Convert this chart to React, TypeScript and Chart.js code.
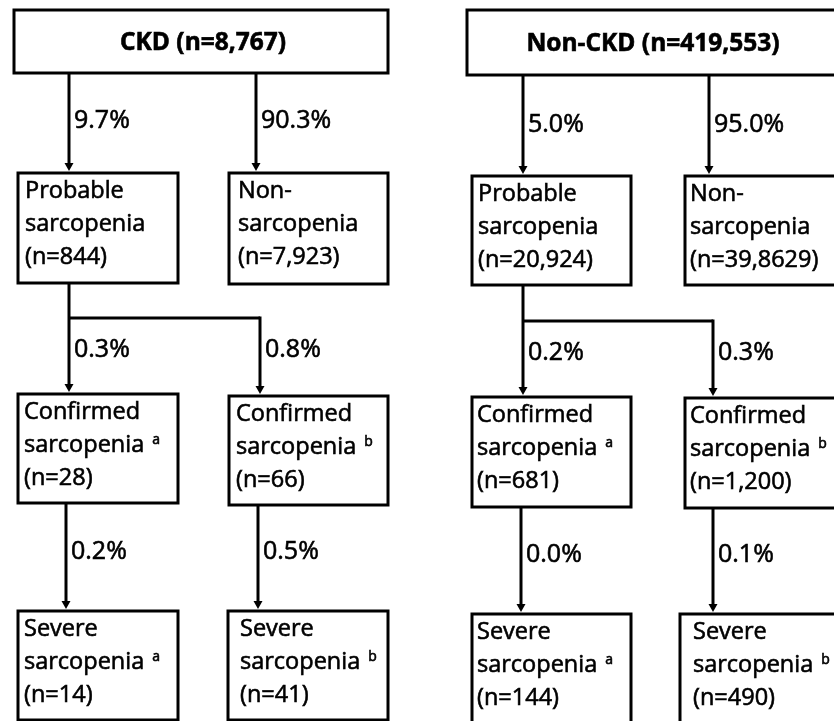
import React, { useEffect, useRef } from "react";
import { Chart, registerables } from "chart.js";

Chart.register(...registerables);

// ---------- Data ----------
const panelNames = ["CKD", "Non-CKD"];
const totalN = ["8,767", "419,553"];
const probablePct = ["9.7%", "5.0%"];
const nonSarcPct = ["90.3%", "95.0%"];
const probableN = ["844", "20,924"];
const nonSarcN = ["7,923", "39,8629"];
const confirmedAPct = ["0.3%", "0.2%"];
const confirmedBPct = ["0.8%", "0.3%"];
const confirmedAN = ["28", "681"];
const confirmedBN = ["66", "1,200"];
const severeAPct = ["0.2%", "0.0%"];
const severeBPct = ["0.5%", "0.1%"];
const severeAN = ["14", "144"];
const severeBN = ["41", "490"];

// ---------- Layout (in scale units: 0..834 x 0..721) ----------
type Box = { x0: number; x1: number; y0: number; y1: number; tx: number };
type PanelLayout = {
  top: Box;
  titleCx: number;
  topArrowX: [number, number];
  prob: Box;
  non: Box;
  branchY: number;
  branchX: [number, number];
  confA: Box;
  confB: Box;
  sevX: [number, number];
  sevA: Box;
  sevB: Box;
  pctBase: [number, number, number];
};

const LAYOUT: PanelLayout[] = [
  {
    top: { x0: 14, x1: 388, y0: 10, y1: 73, tx: 0 },
    titleCx: 203,
    topArrowX: [69, 256],
    prob: { x0: 18, x1: 178, y0: 173, y1: 283, tx: 25 },
    non: { x0: 229, x1: 388, y0: 173, y1: 284, tx: 238 },
    branchY: 318,
    branchX: [69, 260],
    confA: { x0: 18, x1: 178, y0: 394, y1: 503, tx: 24 },
    confB: { x0: 229, x1: 388, y0: 396, y1: 505, tx: 236 },
    sevX: [66, 258],
    sevA: { x0: 18, x1: 178, y0: 611, y1: 720, tx: 24 },
    sevB: { x0: 228, x1: 388, y0: 611, y1: 720, tx: 240 },
    pctBase: [128, 357, 559],
  },
  {
    top: { x0: 467, x1: 840, y0: 10, y1: 75, tx: 0 },
    titleCx: 653,
    topArrowX: [523, 709],
    prob: { x0: 472, x1: 631, y0: 176, y1: 285, tx: 478 },
    non: { x0: 685, x1: 845, y0: 176, y1: 285, tx: 690 },
    branchY: 321,
    branchX: [523, 713],
    confA: { x0: 472, x1: 631, y0: 397, y1: 507, tx: 477 },
    confB: { x0: 685, x1: 845, y0: 398, y1: 508, tx: 690 },
    sevX: [521, 713],
    sevA: { x0: 472, x1: 631, y0: 614, y1: 725, tx: 477 },
    sevB: { x0: 680, x1: 845, y0: 614, y1: 725, tx: 693 },
    pctBase: [132, 360, 562],
  },
];

const FONT = '"Open Sans", "Noto Sans", sans-serif';
const TEXT_SIZE = 23.5;
const TITLE_SIZE = 24.5;
const PCT_SIZE = 25;
const SUP_SIZE = 14;
const LINE_W = 3;
const TEXT_STROKE = 0.6;

type Line = { text: string; sup?: string };

const flowPlugin = {
  id: "flowchart",
  beforeDraw(chart: any) {
    const ctx = chart.ctx;
    ctx.save();
    ctx.fillStyle = "#ffffff";
    ctx.fillRect(0, 0, chart.width, chart.height);
    ctx.restore();
  },
  afterDraw(chart: any) {
    const ctx: CanvasRenderingContext2D = chart.ctx;
    const sx = chart.scales.x;
    const sy = chart.scales.y;
    const px = (v: number) => sx.getPixelForValue(v);
    const py = (v: number) => sy.getPixelForValue(v);

    ctx.save();
    ctx.strokeStyle = "#000";
    ctx.fillStyle = "#000";
    ctx.lineJoin = "miter";

    const text = (t: string, x: number, y: number) => {
      ctx.fillText(t, x, y);
      ctx.save();
      ctx.lineWidth = TEXT_STROKE;
      ctx.strokeText(t, x, y);
      ctx.restore();
    };
    const rect = (b: Box) => {
      ctx.lineWidth = LINE_W;
      ctx.strokeRect(px(b.x0), py(b.y0), px(b.x1) - px(b.x0), py(b.y1) - py(b.y0));
    };
    const seg = (x0: number, y0: number, x1: number, y1: number) => {
      ctx.lineWidth = LINE_W;
      ctx.beginPath();
      ctx.moveTo(px(x0), py(y0));
      ctx.lineTo(px(x1), py(y1));
      ctx.stroke();
    };
    const arrow = (x: number, y0: number, yTip: number) => {
      const X = px(x);
      const T = py(yTip);
      ctx.lineWidth = LINE_W;
      ctx.beginPath();
      ctx.moveTo(X, py(y0));
      ctx.lineTo(X, T - 6);
      ctx.stroke();
      ctx.beginPath();
      ctx.moveTo(X - 4.5, T - 8);
      ctx.lineTo(X + 4.5, T - 8);
      ctx.lineTo(X, T);
      ctx.closePath();
      ctx.fill();
    };
    const boxText = (b: Box, lines: Line[]) => {
      ctx.textAlign = "left";
      ctx.textBaseline = "alphabetic";
      lines.forEach((ln, i) => {
        const base = py(b.y0) + 25 + i * 33;
        ctx.font = `${TEXT_SIZE}px ${FONT}`;
        text(ln.text, px(b.tx), base);
        if (ln.sup) {
          const w = ctx.measureText(ln.text).width;
          ctx.font = `${SUP_SIZE}px ${FONT}`;
          text(ln.sup, px(b.tx) + w + 8, base - 8);
        }
      });
    };
    const pct = (x: number, yBase: number, t: string) => {
      ctx.font = `${PCT_SIZE}px ${FONT}`;
      ctx.textAlign = "left";
      ctx.textBaseline = "alphabetic";
      text(t, px(x) + 5, py(yBase));
    };

    LAYOUT.forEach((L, i) => {
      // title
      rect(L.top);
      ctx.font = `bold ${TITLE_SIZE}px ${FONT}`;
      ctx.textAlign = "center";
      ctx.textBaseline = "middle";
      text(`${panelNames[i]} (n=${totalN[i]})`, px(L.titleCx), (py(L.top.y0) + py(L.top.y1)) / 2 + 2);

      // first level
      arrow(L.topArrowX[0], L.top.y1, L.prob.y0 - 2);
      arrow(L.topArrowX[1], L.top.y1, L.non.y0 - 2);
      pct(L.topArrowX[0], L.pctBase[0], probablePct[i]);
      pct(L.topArrowX[1], L.pctBase[0], nonSarcPct[i]);
      rect(L.prob);
      rect(L.non);
      boxText(L.prob, [{ text: "Probable" }, { text: "sarcopenia" }, { text: `(n=${probableN[i]})` }]);
      boxText(L.non, [{ text: "Non-" }, { text: "sarcopenia" }, { text: `(n=${nonSarcN[i]})` }]);

      // branch
      seg(L.branchX[0], L.prob.y1, L.branchX[0], L.branchY);
      seg(L.branchX[0], L.branchY, L.branchX[1], L.branchY);
      arrow(L.branchX[0], L.branchY, L.confA.y0 - 2);
      arrow(L.branchX[1], L.branchY - 1.5, L.confB.y0 - 2);
      pct(L.branchX[0], L.pctBase[1], confirmedAPct[i]);
      pct(L.branchX[1], L.pctBase[1], confirmedBPct[i]);
      rect(L.confA);
      rect(L.confB);
      boxText(L.confA, [{ text: "Confirmed" }, { text: "sarcopenia", sup: "a" }, { text: `(n=${confirmedAN[i]})` }]);
      boxText(L.confB, [{ text: "Confirmed" }, { text: "sarcopenia", sup: "b" }, { text: `(n=${confirmedBN[i]})` }]);

      // severe
      arrow(L.sevX[0], L.confA.y1, L.sevA.y0 - 2);
      arrow(L.sevX[1], L.confB.y1, L.sevB.y0 - 2);
      pct(L.sevX[0], L.pctBase[2], severeAPct[i]);
      pct(L.sevX[1], L.pctBase[2], severeBPct[i]);
      rect(L.sevA);
      rect(L.sevB);
      boxText(L.sevA, [{ text: "Severe" }, { text: "sarcopenia", sup: "a" }, { text: `(n=${severeAN[i]})` }]);
      boxText(L.sevB, [{ text: "Severe" }, { text: "sarcopenia", sup: "b" }, { text: `(n=${severeBN[i]})` }]);
    });

    ctx.restore();
  },
};

export default function App() {
  const ref = useRef<HTMLCanvasElement | null>(null);

  useEffect(() => {
    document.body.style.margin = "0";
    const canvas = ref.current;
    if (!canvas) return;
    // anchor points: one per node centre, invisible
    const anchors: { x: number; y: number }[] = [];
    LAYOUT.forEach((L) => {
      [L.top, L.prob, L.non, L.confA, L.confB, L.sevA, L.sevB].forEach((b) =>
        anchors.push({ x: (b.x0 + b.x1) / 2, y: (b.y0 + b.y1) / 2 })
      );
    });
    const chart = new Chart(canvas, {
      type: "scatter",
      data: {
        datasets: [
          {
            label: "nodes",
            data: anchors,
            pointRadius: 0,
            pointHoverRadius: 0,
          },
        ],
      },
      options: {
        animation: false,
        responsive: false,
        maintainAspectRatio: false,
        devicePixelRatio: 1,
        layout: { padding: 0 },
        plugins: {
          legend: { display: false },
          tooltip: { enabled: false },
          title: { display: false },
        },
        events: [],
        scales: {
          x: { type: "linear", min: 0, max: 834, display: false },
          y: { type: "linear", min: 0, max: 721, reverse: true, display: false },
        },
      },
      plugins: [flowPlugin],
    });
    return () => chart.destroy();
  }, []);

  return (
    <div style={{ width: 834, height: 721, background: "#fff" }}>
      <canvas ref={ref} width={834} height={721} style={{ display: "block" }} />
    </div>
  );
}
